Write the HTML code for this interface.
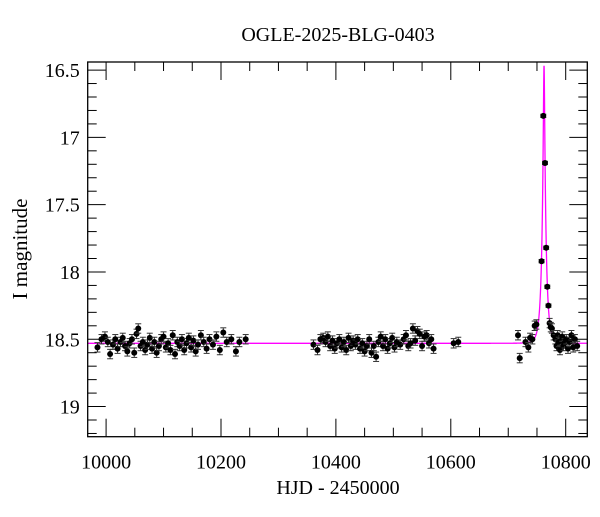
<!DOCTYPE html>
<html><head><meta charset="utf-8">
<style>
body{margin:0;background:#fff;}
svg text{font-family:"Liberation Serif",serif;fill:#000;}
</style></head>
<body>
<svg id="chart" width="600" height="512" xmlns="http://www.w3.org/2000/svg"></svg>
<script>
const times = [9985,9992,9998,10003,10007,10012,10016,10020,10025,10029,10033,10037,10041,10045,10049,10053,10056,10060,10064,10068,10072,10076,10080,10084,10088,10092,10096,10100,10104,10108,10112,10116,10120,10124,10128,10132,10136,10140,10144,10148,10152,10156,10160,10165,10170,10175,10180,10186,10192,10198,10204,10210,10218,10226,10232,10243,
10361,10368,10373,10378,10382,10386,10390,10394,10398,10402,10406,10410,10414,10418,10422,10426,10430,10434,10438,10442,10446,10450,10454,10458,10462,10466,10470,10474,10478,10482,10486,10490,10494,10498,10502,10506,10512,10518,10522,10526,10530,10534,10538,10542,10546,10550,10554,10558,10562,10566,10570,10605,10613,
10717,10720,10730,10735,10738,10742,10746,10749,10758,10761,10764,10766,10768,10770,10772,10774,10776,10779,10782,10784,10786,10788,10790,10792,10794,10796,10798,10801,10804,10807,10810,10813,10816,10820];
const mags = [18.56,18.50,18.48,18.52,18.61,18.54,18.50,18.57,18.52,18.49,18.55,18.59,18.53,18.50,18.60,18.46,18.42,18.55,18.52,18.58,18.54,18.49,18.57,18.52,18.60,18.55,18.50,18.48,18.56,18.53,18.58,18.47,18.61,18.52,18.55,18.50,18.58,18.53,18.49,18.56,18.51,18.59,18.54,18.47,18.52,18.57,18.50,18.54,18.48,18.58,18.45,18.52,18.50,18.59,18.52,18.50,
18.54,18.58,18.50,18.49,18.52,18.48,18.55,18.51,18.57,18.53,18.50,18.56,18.52,18.58,18.49,18.55,18.51,18.54,18.50,18.57,18.53,18.59,18.55,18.50,18.60,18.55,18.63,18.52,18.48,18.55,18.50,18.57,18.53,18.49,18.56,18.52,18.54,18.50,18.47,18.55,18.53,18.42,18.51,18.44,18.46,18.55,18.48,18.47,18.53,18.50,18.57,18.53,18.52,
18.47,18.64,18.52,18.56,18.49,18.50,18.40,18.39,17.92,16.84,17.19,17.82,18.11,18.25,18.38,18.41,18.42,18.47,18.50,18.55,18.47,18.52,18.58,18.51,18.48,18.55,18.53,18.50,18.57,18.52,18.47,18.56,18.50,18.55];
const xTicks = [10000,10200,10400,10600,10800];
const yTicks = [16.5,17,17.5,18,18.5,19];
const modelParams = [10762.3, 0.151, 7.0, 18.53]; // t0, u0, tE, baseline

const svg = document.getElementById('chart');
const NS = 'http://www.w3.org/2000/svg';
const L=87.7,R=587.3,T=62,B=436.7;
const x0=9968.0,x1=10837.6,y0=16.44,y1=19.224;
const sx = t => L + (t-x0)/(x1-x0)*(R-L);
const sy = m => T + (m-y0)/(y1-y0)*(B-T);
function mk(tag, attrs){const e=document.createElementNS(NS,tag);for(const k in attrs)e.setAttribute(k,attrs[k]);svg.appendChild(e);return e;}

const defs=mk('defs',{});
const cp=document.createElementNS(NS,'clipPath');cp.setAttribute('id','pc');
const cr=document.createElementNS(NS,'rect');cr.setAttribute('x',L);cr.setAttribute('y',T);cr.setAttribute('width',R-L);cr.setAttribute('height',B-T);
cp.appendChild(cr);defs.appendChild(cp);

let d='';
for(let t=x0;t<=x1;t+=0.1){
  const [t0,u0,tE,base]=modelParams;
  const tau=(t-t0)/tE;const u=Math.sqrt(u0*u0+tau*tau);
  const A=(u*u+2)/(u*Math.sqrt(u*u+4));
  const m=base-2.5*Math.log10(A);
  d+=(d?'L':'M')+sx(t).toFixed(2)+','+sy(m).toFixed(2);
}
const model=mk('path',{d:d,fill:'none',stroke:'#ff00ff','stroke-width':1.3,'clip-path':'url(#pc)'});



for(let i=0;i<times.length;i++){
  const err = mags[i]<18.3 ? 0.012 : 0.035;
  const cx=sx(times[i]),cy=sy(mags[i]),ey=err/(y1-y0)*(B-T);
  const g=mk('g',{stroke:'#333','stroke-width':1});
  
  
  const ln=(a,b,c,e)=>{const l=document.createElementNS(NS,'line');l.setAttribute('x1',a);l.setAttribute('y1',b);l.setAttribute('x2',c);l.setAttribute('y2',e);g.appendChild(l);};
  ln(cx,cy-ey,cx,cy+ey);ln(cx-3,cy-ey,cx+3,cy-ey);ln(cx-3,cy+ey,cx+3,cy+ey);
  const c=document.createElementNS(NS,'circle');c.setAttribute('cx',cx);c.setAttribute('cy',cy);c.setAttribute('r',3);c.setAttribute('fill','#000');c.setAttribute('stroke','none');g.appendChild(c);
}

const fr=mk('rect',{x:L,y:T,width:R-L,height:B-T,fill:'none',stroke:'#000','stroke-width':1.3});



for(let v=10000;v<=10800;v+=50){
  const major=v%200===0, x=sx(v), len=major?18:9;
  mk('line',{x1:x,y1:B,x2:x,y2:B-len,stroke:'#000','stroke-width':1});
  mk('line',{x1:x,y1:T,x2:x,y2:T+len,stroke:'#000','stroke-width':1});
}
xTicks.forEach(v=>{
  const t=mk('text',{x:sx(v),y:B+32,'font-size':20,'text-anchor':'middle'});
  
  
  t.textContent=v;
});
for(let k=0;k<=27;k++){
  const v=16.5+k*0.1; if(v>y1)break;
  const major=Math.abs(v*2-Math.round(v*2))<1e-6, y=sy(v), len=major?18:9;
  mk('line',{x1:L,y1:y,x2:L+len,y2:y,stroke:'#000','stroke-width':1});
  mk('line',{x1:R,y1:y,x2:R-len,y2:y,stroke:'#000','stroke-width':1});
}
yTicks.forEach(v=>{
  const t=mk('text',{x:L-8,y:sy(v)+7,'font-size':20,'text-anchor':'end'});
  
  
  t.textContent=v;
});

const title=mk('text',{x:338,y:41,'font-size':20,'text-anchor':'middle'});


title.textContent='OGLE-2025-BLG-0403';
const xl=mk('text',{x:338,y:494,'font-size':20,'text-anchor':'middle'});


xl.textContent='HJD - 2450000';
const yl=mk('text',{x:27,y:249,'font-size':21,'text-anchor':'middle',transform:'rotate(-90 27 249)'});


yl.textContent='I magnitude';
</script>
</body></html>
